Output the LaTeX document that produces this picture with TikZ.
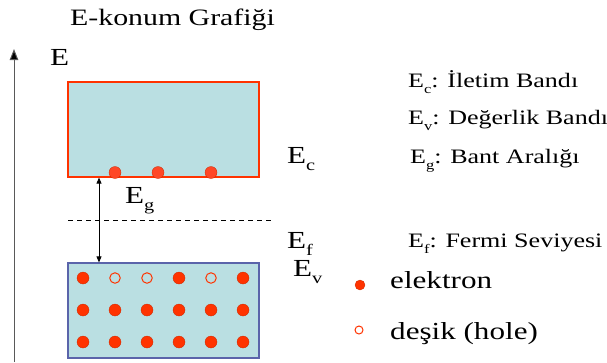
\documentclass[tikz,border=0pt]{standalone}
\usepackage{fontspec}
\IfFontExistsTF{Liberation Serif}{\setmainfont{Liberation Serif}[FakeStretch=1.27]}{\setmainfont{Latin Modern Roman}[FakeStretch=1.15]}
\usepackage{tikz}
\usetikzlibrary{positioning,calc,arrows.meta}
\definecolor{bandfill}{HTML}{BADFE2}
\definecolor{elred}{HTML}{FF3300}
\definecolor{vblue}{HTML}{5A64AA}
\newcommand{\bsub}[1]{\raisebox{-7pt}{\fontsize{16}{17}\selectfont #1}}
\newcommand{\dsub}[1]{\raisebox{-6pt}{\fontsize{13}{14}\selectfont #1}}
\tikzset{
  cbandbox/.style={rectangle, draw=elred, fill=bandfill, line width=1.2pt, minimum width=191pt, minimum height=95pt, inner sep=0pt},
  vbandbox/.style={rectangle, draw=vblue, fill=bandfill, line width=1.2pt, minimum width=191pt, minimum height=95pt, inner sep=0pt},
  elec/.style={circle, fill=elred, draw=elred!80!black, line width=0.3pt, minimum size=12pt, inner sep=0pt},
  hole/.style={circle, draw=elred, line width=1pt, fill=none, minimum size=10.5pt, inner sep=0pt},
  bigtxt/.style={font=\fontsize{24.5}{28}\selectfont, inner sep=0pt, anchor=base west},
  deftxt/.style={font=\fontsize{20.5}{24}\selectfont, inner sep=0pt, anchor=base west},
  axisline/.style={draw=black!65, line width=1pt, -{Triangle[length=11pt,width=8.5pt,fill=black]}},
  gaparrow/.style={draw=black, line width=0.8pt, {Triangle[length=6pt,width=5pt]}-{Triangle[length=6pt,width=5pt]}}
}
\begin{document}
\begin{tikzpicture}[x=1pt,y=-1pt]
  \useasboundingbox (0,0) rectangle (607,362);
  \node[font=\fontsize{23.5}{27}\selectfont, inner sep=0pt, anchor=base west] (title) at (70,25) {E-konum Grafiği};
  % energy axis
  \coordinate (axbot) at (14,362);
  \coordinate (axtop) at (14,49);
  \draw[axisline] (axbot) -- (axtop);
  \node[bigtxt] (elab) at (50,65) {E};
  % bands
  \node[cbandbox] (cband) at (163.5,129.5) {};
  \node[vbandbox] (vband) at (163.5,310.5) {};
  \foreach \x [count=\i] in {115,158,211}
    \node[elec, fill=elred!75!red!85!white] (ce\i) at (\x,172.5) {};
  \foreach \x [count=\i] in {83,115,147,179,211,243} {
    \node[elec] (vb\i) at (\x,310) {};
    \node[elec] (vc\i) at (\x,342) {};
  }
  \foreach \x/\kind [count=\i] in {83/elec,115/hole,147/hole,179/elec,211/hole,243/elec}
    \node[\kind] (va\i) at (\x,278) {};
  % fermi level and gap
  \coordinate (fl) at (68,220);
  \coordinate (fr) at (272,220);
  \draw[dash pattern=on 5pt off 4pt, line width=0.8pt] (fl) -- (fr);
  \coordinate (gx) at (99,0);
  \draw[gaparrow] (cband.south -| gx) -- (vband.north -| gx);
  \node[bigtxt] (eg) at (125,203) {E\bsub{g}};
  \node[bigtxt] (ec) at (287,163) {E\bsub{c}};
  \node[bigtxt] (ef) at (287,248) {E\bsub{f}};
  \node[bigtxt] (ev) at (293,276) {E\bsub{v}};
  % definitions
  \node[deftxt] (dc) at (408,87) {E\dsub{c}: İletim Bandı};
  \node[deftxt] (dv) at (408,124) {E\dsub{v}: Değerlik Bandı};
  \node[deftxt] (dg) at (410,163) {E\dsub{g}: Bant Aralığı};
  \node[deftxt] (df) at (408,247) {E\dsub{f}: Fermi Seviyesi};
  % legend
  \node[elec, minimum size=10pt] (kel) at (360,285) {};
  \node[bigtxt] (tel) at (390,288) {elektron};
  \node[hole, minimum size=8pt] (kho) at (359,330) {};
  \node[bigtxt] (tho) at (390,339) {deşik (hole)};
\end{tikzpicture}
\end{document}
